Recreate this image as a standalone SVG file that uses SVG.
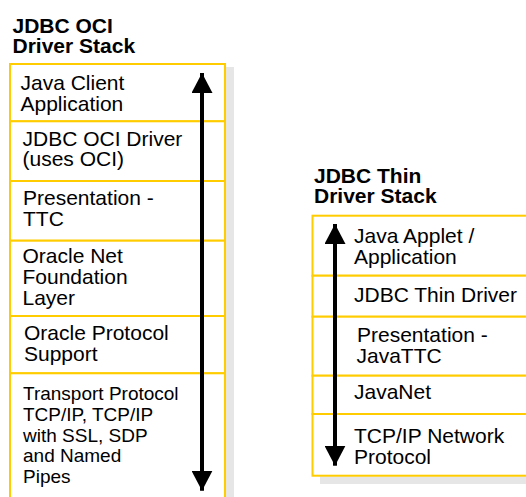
<svg xmlns="http://www.w3.org/2000/svg" width="526" height="497" viewBox="0 0 526 497">
<style>
.layer{fill:#FFFFFF;stroke:#FFCC00;stroke-width:2}
.shadow{fill:#E6E6E6;stroke:none}
.t{font-family:"Liberation Sans",Arial,Helvetica,sans-serif;font-size:21px;fill:#000}
.ts{font-family:"Liberation Sans",Arial,Helvetica,sans-serif;font-size:19px;fill:#000}
.title{font-family:"Liberation Sans",Arial,Helvetica,sans-serif;font-size:21px;font-weight:bold;fill:#000}
.arrow{stroke:#000;stroke-width:4;fill:none}
</style>
<defs>
<marker id="head" markerUnits="userSpaceOnUse" viewBox="0 0 20 21" markerWidth="20" markerHeight="21" refX="20" refY="10.5" orient="auto-start-reverse">
<path d="M0,0 L20,10.5 L0,21 Z" fill="#000"/>
</marker>
</defs>
<rect width="526" height="497" fill="#FFFFFF"/>
<g id="oci-title">
<text class="title" x="12.5" y="33.3">JDBC OCI</text>
<text class="title" x="12.5" y="53.3">Driver Stack</text>
</g>
<rect class="shadow" x="226" y="67" width="8" height="430"/>
<g id="oci-java-client">
<rect class="layer" x="10" y="64" width="215" height="57.3"/>
<text class="t" x="20.5" y="90">Java Client</text>
<text class="t" x="20.5" y="110.5">Application</text>
</g>
<g id="oci-driver">
<rect class="layer" x="10" y="121.3" width="215" height="59.7"/>
<text class="t" x="22.5" y="145.7">JDBC OCI Driver</text>
<text class="t" x="22.5" y="166.2">(uses OCI)</text>
</g>
<g id="oci-presentation">
<rect class="layer" x="10" y="181" width="215" height="59.7"/>
<text class="t" x="23" y="205">Presentation -</text>
<text class="t" x="23" y="226">TTC</text>
</g>
<g id="oci-net-foundation">
<rect class="layer" x="10" y="240.7" width="215" height="75.3"/>
<text class="t" x="22.5" y="263.3">Oracle Net</text>
<text class="t" x="22.5" y="284.3">Foundation</text>
<text class="t" x="22.5" y="305">Layer</text>
</g>
<g id="oci-protocol-support">
<rect class="layer" x="10" y="316" width="215" height="57.3"/>
<text class="t" x="24" y="340">Oracle Protocol</text>
<text class="t" x="24" y="360.5">Support</text>
</g>
<g id="oci-transport">
<rect class="layer" x="10" y="373.3" width="215" height="140"/>
<text class="ts" x="23" y="400.3">Transport Protocol</text>
<text class="ts" x="23" y="421">TCP/IP, TCP/IP</text>
<text class="ts" x="23" y="441.7">with SSL, SDP</text>
<text class="ts" x="23" y="462.3">and Named</text>
<text class="ts" x="23" y="483">Pipes</text>
</g>
<g id="thin-title">
<text class="title" x="314" y="182.7">JDBC Thin</text>
<text class="title" x="314" y="203.3">Driver Stack</text>
</g>
<rect class="shadow" x="320" y="476.5" width="206" height="7.5"/>
<g id="thin-java-applet">
<rect class="layer" x="312.5" y="215.7" width="220" height="60"/>
<text class="t" x="354" y="242.7">Java Applet /</text>
<text class="t" x="354" y="264">Application</text>
</g>
<g id="thin-driver">
<rect class="layer" x="312.5" y="275.7" width="220" height="41"/>
<text class="t" x="354" y="301.7">JDBC Thin Driver</text>
</g>
<g id="thin-presentation">
<rect class="layer" x="312.5" y="316.7" width="220" height="59"/>
<text class="t" x="357" y="341.7">Presentation -</text>
<text class="t" x="356.5" y="362.7">JavaTTC</text>
</g>
<g id="thin-javanet">
<rect class="layer" x="312.5" y="375.7" width="220" height="38.3"/>
<text class="t" x="354" y="399.3">JavaNet</text>
</g>
<g id="thin-tcpip">
<rect class="layer" x="312.5" y="414" width="220" height="61.7"/>
<text class="t" x="354" y="443.3">TCP/IP Network</text>
<text class="t" x="354" y="463.5">Protocol</text>
</g>
<g id="connectors">
<path class="arrow" d="M202,73 L202,490.7" marker-start="url(#head)" marker-end="url(#head)"/>
<path class="arrow" d="M335,224 L335,465.7" marker-start="url(#head)" marker-end="url(#head)"/>
</g>
</svg>
